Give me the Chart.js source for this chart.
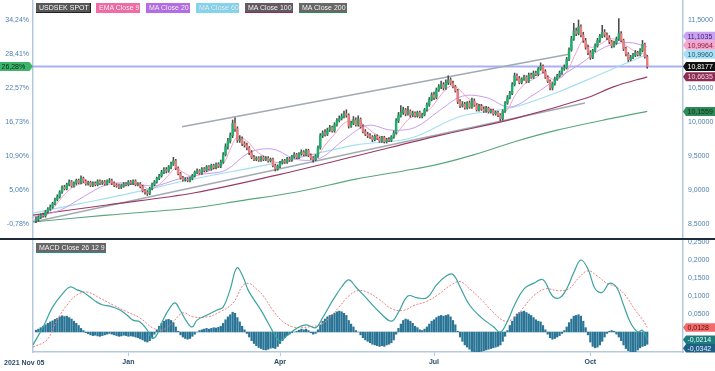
<!DOCTYPE html>
<html><head><meta charset="utf-8">
<script src="https://cdn.jsdelivr.net/npm/chart.js@4.4.1/dist/chart.umd.min.js"></script>
<style>
html,body{margin:0;padding:0;background:#fff;}
#wrap{position:relative;width:715px;height:371px;overflow:hidden;font-family:"Liberation Sans",Arial,sans-serif;}
canvas{position:absolute;left:0;}
#c1{top:0}
#c2{top:240px}
.lg{position:absolute;height:10px;line-height:10px;font-size:7px;color:#fff;padding:0 3px;box-sizing:border-box;white-space:nowrap;text-shadow:0 0 1px rgba(0,0,0,.35)}
#sep{position:absolute;left:0;top:238px;width:715px;height:2px;background:#1d2b3a}
#xfirst{position:absolute;left:4px;top:357px;font-size:7px;line-height:11px;font-weight:bold;color:#2c4a68}
</style></head>
<body>
<div id="wrap">
<canvas id="c1" width="715" height="238"></canvas>
<canvas id="c2" width="715" height="131"></canvas>
<div id="sep"></div>
<div class="lg" style="left:36px;top:3px;width:55px;background:#585858;border-right:1px solid #222;border-bottom:1px solid #222">USDSEK SPOT</div>
<div class="lg" style="left:96px;top:3px;width:44px;background:#f46aa6">EMA Close 9</div>
<div class="lg" style="left:146px;top:3px;width:44px;background:#b56ce6">MA Close 20</div>
<div class="lg" style="left:196px;top:3px;width:43px;background:#82d4f0">MA Close 60</div>
<div class="lg" style="left:245px;top:3px;width:48px;background:#655a60;border-bottom:1px solid #8c2d55">MA Close 100</div>
<div class="lg" style="left:299px;top:3px;width:48px;background:#686868;border-bottom:1px solid #2f8a58">MA Close 200</div>
<div class="lg" style="left:36px;top:243px;width:70px;background:#686868;border-bottom:1px solid #2a8a8a">MACD Close 26 12 9</div>
<div id="xfirst">2021 Nov 05</div>
</div>
<script>
// ---------------- DATA ----------------
const firstDateLabel = '2021 Nov 05';
const xTickIdx = [39, 103, 168, 234];
const xTickLabels = ['Jan', 'Apr', 'Jul', 'Oct'];

const priceTickValues = [8.5, 9.0, 9.5, 10.0, 10.5, 11.5];
const priceTickLabels = ['8,5000', '9,0000', '9,5000', '10,0000', '10,5000', '11,5000'];
const pctTickValues = [8.5, 9.0, 9.5, 10.0, 10.5, 11.0, 11.5];
const pctTickLabels = ['-0,78%', '5,06%', '10,90%', '16,73%', '22,57%', '28,41%', '34,24%'];
const lastPctLabel = '26,28%';
const macdTickValues = [-0.05, 0.05, 0.10, 0.15, 0.20, 0.25];
const macdTickLabels = ['-0,0500', '0,0500', '0,1000', '0,1500', '0,2000', '0,2500'];

const opens = [
8.55,8.57,8.60,8.63,8.62,8.68,8.72,8.75,8.80,8.86,
8.90,8.97,9.04,9.02,9.08,9.12,9.06,9.10,9.14,9.11,
9.17,9.13,9.09,9.11,9.07,9.10,9.08,9.13,9.10,9.12,
9.09,9.13,9.14,9.10,9.07,9.06,9.04,9.06,9.09,9.08,
9.12,9.10,9.13,9.08,9.09,9.05,8.99,8.97,8.95,9.02,
9.08,9.12,9.17,9.21,9.26,9.30,9.28,9.34,9.38,9.43,
9.32,9.24,9.18,9.15,9.16,9.14,9.17,9.21,9.26,9.28,
9.25,9.31,9.29,9.34,9.31,9.36,9.33,9.38,9.35,9.41,
9.52,9.64,9.72,9.80,9.98,9.90,9.73,9.75,9.68,9.66,
9.62,9.55,9.48,9.45,9.47,9.44,9.48,9.45,9.47,9.43,
9.45,9.36,9.31,9.35,9.40,9.43,9.41,9.46,9.44,9.49,
9.52,9.48,9.53,9.56,9.52,9.58,9.51,9.47,9.45,9.50,
9.62,9.80,9.84,9.82,9.88,9.92,9.87,9.96,10.02,10.05,
10.08,10.12,10.10,9.94,9.98,10.03,9.96,10.04,9.93,9.86,
9.82,9.80,9.78,9.74,9.79,9.76,9.72,9.77,9.71,9.74,
9.73,9.78,9.84,10.02,10.10,10.14,10.18,10.12,10.16,10.10,
10.13,10.09,10.14,10.08,10.11,10.18,10.25,10.33,10.40,10.36,
10.47,10.52,10.55,10.50,10.58,10.62,10.57,10.52,10.46,10.30,
10.24,10.26,10.21,10.28,10.22,10.31,10.25,10.18,10.23,10.19,
10.16,10.20,10.15,10.17,10.12,10.14,10.10,10.05,10.16,10.28,
10.36,10.42,10.55,10.68,10.64,10.58,10.63,10.66,10.60,10.69,
10.66,10.72,10.70,10.78,10.82,10.74,10.66,10.60,10.50,10.56,
10.63,10.68,10.72,10.78,10.80,10.92,11.06,11.22,11.34,11.30,
11.40,11.28,11.20,11.10,11.02,10.95,11.05,11.12,11.20,11.26,
11.32,11.28,11.24,11.18,11.12,11.16,11.22,11.30,11.20,11.08,
11.00,10.92,10.95,10.98,11.02,10.99,11.05,11.14,10.96];

const highs = [
8.60,8.62,8.65,8.66,8.70,8.74,8.78,8.82,8.88,8.93,
8.99,9.06,9.07,9.10,9.15,9.14,9.12,9.16,9.16,9.21,
9.19,9.15,9.13,9.13,9.12,9.12,9.15,9.15,9.14,9.14,
9.15,9.17,9.16,9.12,9.09,9.08,9.08,9.11,9.11,9.14,
9.14,9.15,9.15,9.11,9.11,9.07,9.01,8.99,9.04,9.10,
9.14,9.19,9.23,9.29,9.33,9.33,9.36,9.41,9.48,9.45,
9.34,9.26,9.20,9.18,9.18,9.19,9.23,9.28,9.31,9.30,
9.33,9.33,9.36,9.36,9.38,9.38,9.40,9.40,9.44,9.55,
9.68,9.76,9.84,10.03,10.06,9.93,9.80,9.78,9.71,9.69,
9.64,9.58,9.51,9.49,9.49,9.50,9.50,9.49,9.49,9.47,
9.47,9.38,9.37,9.42,9.45,9.45,9.48,9.48,9.51,9.55,
9.54,9.55,9.59,9.58,9.60,9.60,9.53,9.49,9.52,9.65,
9.83,9.87,9.89,9.91,9.95,9.94,9.99,10.05,10.09,10.12,
10.16,10.18,10.12,10.01,10.08,10.06,10.09,10.06,9.96,9.89,
9.85,9.83,9.80,9.81,9.81,9.78,9.79,9.79,9.76,9.77,
9.80,9.87,10.05,10.14,10.24,10.22,10.20,10.23,10.18,10.16,
10.15,10.16,10.16,10.13,10.20,10.28,10.36,10.43,10.44,10.50,
10.55,10.60,10.58,10.62,10.68,10.65,10.60,10.54,10.48,10.33,
10.30,10.29,10.30,10.31,10.35,10.34,10.27,10.26,10.26,10.22,
10.23,10.22,10.19,10.19,10.16,10.16,10.12,10.18,10.30,10.39,
10.45,10.58,10.72,10.71,10.67,10.65,10.69,10.68,10.72,10.72,
10.75,10.75,10.80,10.87,10.84,10.77,10.68,10.62,10.58,10.66,
10.70,10.75,10.80,10.84,10.95,11.09,11.26,11.45,11.38,11.50,
11.43,11.32,11.23,11.13,11.05,11.07,11.15,11.23,11.29,11.42,
11.36,11.31,11.27,11.20,11.19,11.25,11.52,11.33,11.22,11.10,
11.02,10.98,11.01,11.05,11.04,11.08,11.20,11.16,10.98];

const lows = [
8.52,8.54,8.58,8.60,8.60,8.66,8.70,8.73,8.78,8.84,
8.88,8.95,9.00,9.00,9.06,9.04,9.04,9.08,9.09,9.09,
9.11,9.07,9.07,9.05,9.05,9.06,9.06,9.08,9.08,9.07,
9.07,9.11,9.08,9.05,9.04,9.02,9.02,9.04,9.06,9.06,
9.08,9.08,9.06,9.06,9.03,8.97,8.94,8.92,8.93,9.00,
9.06,9.10,9.15,9.19,9.24,9.25,9.26,9.31,9.36,9.30,
9.22,9.16,9.13,9.13,9.12,9.12,9.15,9.19,9.24,9.23,
9.23,9.27,9.27,9.29,9.29,9.31,9.31,9.33,9.33,9.39,
9.50,9.60,9.69,9.77,9.86,9.70,9.70,9.65,9.63,9.59,
9.52,9.46,9.43,9.43,9.42,9.42,9.43,9.43,9.41,9.41,
9.34,9.28,9.29,9.33,9.38,9.39,9.39,9.42,9.42,9.47,
9.46,9.46,9.51,9.50,9.50,9.49,9.45,9.41,9.43,9.48,
9.60,9.77,9.79,9.80,9.86,9.85,9.85,9.94,10.00,10.03,
10.06,10.07,9.91,9.92,9.96,9.94,9.94,9.91,9.84,9.80,
9.77,9.76,9.71,9.72,9.74,9.70,9.70,9.69,9.69,9.71,
9.71,9.76,9.82,9.99,10.07,10.11,10.09,10.10,10.07,10.08,
10.07,10.07,10.06,10.06,10.09,10.16,10.23,10.31,10.33,10.34,
10.45,10.49,10.47,10.48,10.55,10.55,10.50,10.44,10.27,10.21,
10.22,10.19,10.19,10.20,10.20,10.23,10.16,10.16,10.17,10.14,
10.14,10.13,10.13,10.10,10.10,10.08,10.02,10.03,10.14,10.26,
10.34,10.40,10.53,10.61,10.56,10.56,10.61,10.58,10.58,10.64,
10.64,10.68,10.68,10.76,10.72,10.64,10.58,10.47,10.47,10.54,
10.61,10.66,10.70,10.76,10.78,10.90,11.04,11.20,11.27,11.28,
11.25,11.17,11.07,10.99,10.92,10.93,11.03,11.10,11.17,11.24,
11.25,11.21,11.15,11.09,11.10,11.14,11.20,11.18,11.05,10.97,
10.89,10.90,10.93,10.96,10.97,10.97,11.03,10.94,10.79];

const closes = [
8.57,8.60,8.63,8.62,8.68,8.72,8.75,8.80,8.86,8.90,
8.97,9.04,9.02,9.08,9.12,9.06,9.10,9.14,9.11,9.17,
9.13,9.09,9.11,9.07,9.10,9.08,9.13,9.10,9.12,9.09,
9.13,9.14,9.10,9.07,9.06,9.04,9.06,9.09,9.08,9.12,
9.10,9.13,9.08,9.09,9.05,8.99,8.97,8.95,9.02,9.08,
9.12,9.17,9.21,9.26,9.30,9.28,9.34,9.38,9.43,9.32,
9.24,9.18,9.15,9.16,9.14,9.17,9.21,9.26,9.28,9.25,
9.31,9.29,9.34,9.31,9.36,9.33,9.38,9.35,9.41,9.52,
9.64,9.72,9.80,9.98,9.90,9.73,9.75,9.68,9.66,9.62,
9.55,9.48,9.45,9.47,9.44,9.48,9.45,9.47,9.43,9.45,
9.36,9.31,9.35,9.40,9.43,9.41,9.46,9.44,9.49,9.52,
9.48,9.53,9.56,9.52,9.58,9.51,9.47,9.45,9.50,9.62,
9.80,9.84,9.82,9.88,9.92,9.87,9.96,10.02,10.05,10.08,
10.12,10.10,9.94,9.98,10.03,9.96,10.04,9.93,9.86,9.82,
9.80,9.78,9.74,9.79,9.76,9.72,9.77,9.71,9.74,9.73,
9.78,9.84,10.02,10.10,10.14,10.18,10.12,10.16,10.10,10.13,
10.09,10.14,10.08,10.11,10.18,10.25,10.33,10.40,10.36,10.47,
10.52,10.55,10.50,10.58,10.62,10.57,10.52,10.46,10.30,10.24,
10.26,10.21,10.28,10.22,10.31,10.25,10.18,10.23,10.19,10.16,
10.20,10.15,10.17,10.12,10.14,10.10,10.05,10.16,10.28,10.36,
10.42,10.55,10.68,10.64,10.58,10.63,10.66,10.60,10.69,10.66,
10.72,10.70,10.78,10.82,10.74,10.66,10.60,10.50,10.56,10.63,
10.68,10.72,10.78,10.80,10.92,11.06,11.22,11.34,11.30,11.40,
11.28,11.20,11.10,11.02,10.95,11.05,11.12,11.20,11.26,11.32,
11.28,11.24,11.18,11.12,11.16,11.22,11.30,11.20,11.08,11.00,
10.92,10.95,10.98,11.02,10.99,11.05,11.14,10.96,10.8177];

// moving averages: [trading-day index, value]
const ema9 = [[-1.3,8.55],[3,8.60],[6,8.68],[10,8.85],[14,9.00],[18,9.08],[22,9.11],[26,9.10],[30,9.11],[35,9.09],[40,9.08],[44,9.08],[48,9.01],[52,9.08],[56,9.22],[59,9.32],[62,9.26],[66,9.20],[70,9.24],[75,9.31],[79,9.38],[82,9.60],[85,9.78],[89,9.72],[93,9.57],[97,9.48],[101,9.41],[105,9.40],[110,9.46],[115,9.52],[119,9.52],[122,9.66],[126,9.82],[130,9.98],[134,10.03],[138,9.97],[142,9.85],[147,9.77],[151,9.77],[154,9.91],[158,10.06],[163,10.11],[167,10.22],[171,10.40],[175,10.53],[178,10.50],[182,10.36],[187,10.26],[192,10.19],[196,10.12],[199,10.18],[202,10.38],[206,10.55],[211,10.65],[214,10.72],[218,10.63],[222,10.66],[225,10.80],[228,11.02],[231,11.20],[234,11.10],[238,11.14],[242,11.22],[246,11.20],[250,11.10],[254,11.02],[258,10.9964]];
const ma20 = [[-1.3,8.60],[10,8.70],[20,8.90],[30,9.08],[40,9.10],[50,9.06],[60,9.16],[70,9.23],[80,9.29],[90,9.55],[100,9.60],[110,9.45],[120,9.47],[130,9.74],[140,9.95],[150,9.88],[160,9.92],[170,10.16],[180,10.38],[190,10.36],[200,10.22],[210,10.40],[220,10.64],[230,10.86],[240,11.10],[250,11.17],[258,11.1035]];
const ma60 = [[-1.3,8.66],[18.6,8.80],[39.7,8.95],[65,9.15],[98.8,9.38],[134.7,9.66],[158,9.76],[179,10.08],[202,10.22],[221,10.45],[238,10.70],[258,10.9960]];
const ma100 = [[-1.3,8.63],[30,8.78],[67,8.96],[103,9.23],[135,9.50],[170,9.80],[202,10.05],[232,10.35],[244,10.52],[258,10.6635]];
const ma200 = [[-1.3,8.53],[30,8.63],[67,8.74],[86,8.84],[110,8.97],[135,9.16],[155,9.28],[170,9.38],[185,9.52],[202,9.71],[220,9.88],[244,10.06],[258,10.1559]];
// hand-drawn trend lines: [index, price]
const trendUpper = [[61.6,9.93],[225.4,11.00]];
const trendLower = [[-1.27,8.53],[231.7,10.28]];

// MACD panel
const macdLine = [[-1.3,-0.036],[3,0.014],[7,0.069],[11.4,0.108],[14.4,0.125],[17.3,0.117],[19.8,0.111],[22.8,0.097],[25.7,0.083],[28.3,0.075],[31.2,0.072],[35.5,0.061],[38.4,0.047],[40.9,0.033],[43.9,0.028],[46.9,0.006],[49,-0.017],[51,-0.008],[53.6,0.033],[56.5,0.067],[58.7,0.081],[60.8,0.061],[63.7,0.028],[65.9,0.014],[68,0.033],[72.2,0.047],[76.4,0.061],[79,0.069],[81.9,0.117],[84.8,0.178],[87.4,0.153],[89.5,0.117],[92,0.09],[95,0.06],[98,0.025],[101,-0.01],[103,-0.025],[106,-0.01],[110,0.01],[114,0.02],[118,0.012],[121,0.04],[125,0.085],[129,0.125],[132,0.145],[135,0.125],[140,0.09],[145,0.055],[150,0.03],[153,0.055],[157,0.10],[161,0.095],[165,0.095],[169,0.13],[173,0.155],[176,0.16],[179,0.125],[183,0.075],[188,0.04],[193,0.015],[196,0.0],[199,0.03],[202,0.075],[206,0.12],[210,0.135],[214,0.145],[218,0.10],[221,0.095],[224,0.12],[227,0.165],[230,0.20],[233,0.175],[236,0.12],[239,0.11],[242,0.135],[245,0.125],[248,0.075],[251,0.025],[254,0.0],[256,0.005],[258,-0.0214]];
const signalLine = [[-1.3,-0.042],[4.6,-0.022],[8.9,0.033],[13.1,0.075],[17.3,0.103],[21.5,0.111],[27,0.094],[32.5,0.075],[38.4,0.056],[43.9,0.039],[49.4,0.011],[53.6,0.006],[57.8,0.028],[62,0.053],[66.3,0.042],[72.2,0.042],[77.7,0.056],[83.2,0.081],[87.4,0.13],[90,0.135],[93,0.12],[96,0.10],[100,0.06],[104,0.03],[108,0.015],[112,0.012],[116,0.015],[120,0.02],[124,0.04],[128,0.07],[132,0.10],[136,0.115],[140,0.11],[145,0.09],[150,0.065],[155,0.06],[160,0.075],[165,0.085],[170,0.105],[175,0.13],[179,0.14],[183,0.12],[188,0.09],[193,0.055],[198,0.03],[202,0.04],[206,0.07],[210,0.10],[215,0.12],[220,0.115],[225,0.12],[229,0.15],[233,0.17],[237,0.155],[241,0.135],[245,0.125],[249,0.10],[253,0.06],[256,0.035],[258,0.0128]];
const histogram = [
0.005,0.008,0.012,0.016,0.020,0.024,0.028,0.031,0.035,0.038,
0.042,0.045,0.043,0.044,0.040,0.036,0.030,0.024,0.018,0.010,
0.004,-0.002,-0.005,-0.008,-0.010,-0.009,-0.011,-0.012,-0.010,-0.008,
-0.006,-0.004,-0.006,-0.008,-0.010,-0.012,-0.011,-0.009,-0.010,-0.012,
-0.011,-0.012,-0.014,-0.016,-0.019,-0.022,-0.026,-0.028,-0.024,-0.016,
-0.006,0.006,0.016,0.024,0.030,0.034,0.035,0.032,0.026,0.014,
0.002,-0.008,-0.014,-0.018,-0.020,-0.018,-0.012,-0.006,0.000,0.004,
0.006,0.008,0.010,0.008,0.010,0.012,0.011,0.013,0.016,0.024,
0.034,0.042,0.048,0.055,0.052,0.040,0.028,0.016,0.006,-0.004,
-0.014,-0.024,-0.032,-0.038,-0.043,-0.046,-0.049,-0.050,-0.048,-0.045,
-0.044,-0.046,-0.040,-0.032,-0.024,-0.016,-0.010,-0.006,-0.002,0.000,
0.002,0.005,0.008,0.006,0.008,0.004,-0.002,-0.006,-0.004,0.006,
0.020,0.030,0.036,0.042,0.046,0.048,0.052,0.056,0.058,0.056,
0.052,0.046,0.032,0.022,0.014,0.004,0.000,-0.008,-0.016,-0.022,
-0.026,-0.030,-0.034,-0.036,-0.038,-0.040,-0.038,-0.040,-0.036,-0.034,
-0.030,-0.022,-0.006,0.010,0.022,0.032,0.036,0.034,0.030,0.024,
0.016,0.012,0.006,0.004,0.008,0.014,0.022,0.030,0.034,0.040,
0.044,0.046,0.044,0.046,0.048,0.042,0.032,0.020,0.002,-0.014,
-0.026,-0.036,-0.042,-0.048,-0.054,-0.056,-0.058,-0.056,-0.054,-0.052,
-0.050,-0.048,-0.046,-0.044,-0.042,-0.040,-0.036,-0.026,-0.012,0.004,
0.018,0.030,0.042,0.050,0.054,0.056,0.058,0.054,0.050,0.046,
0.040,0.034,0.030,0.028,0.018,0.006,-0.006,-0.016,-0.020,-0.018,
-0.014,-0.010,-0.004,0.004,0.014,0.026,0.036,0.044,0.046,0.048,
0.044,0.030,0.012,-0.008,-0.028,-0.040,-0.044,-0.042,-0.036,-0.026,
-0.014,-0.004,0.002,0.004,0.002,-0.006,-0.014,-0.024,-0.036,-0.046,
-0.052,-0.056,-0.058,-0.056,-0.050,-0.044,-0.040,-0.038,-0.0342];

// ---------------- STYLE ----------------
const FONT = '"Liberation Sans", Arial, sans-serif';
const FS = 7;
const AX = '#b4c9dd';
const TICK = '#4d7fae';
const UP = '#1fae6c', DOWN = '#e97b7b', WICK = '#4a4a4a';
const X_MIN = -1.27, X_MAX = 273.1;
const Y_MIN = 8.294, Y_MAX = 11.794;
const M_MIN = -0.0556, M_MAX = 0.2556;

const pts = a => a.map(p => ({x: p[0], y: p[1]}));
const last = a => a[a.length - 1][1];
const fmt = v => v.toFixed(4).replace('.', ',');

function drawTag(ctx, x0, x1, tipX, y, h, bg, fg, text) {
  ctx.save();
  ctx.fillStyle = bg;
  ctx.beginPath();
  if (tipX < x0) {
    ctx.moveTo(tipX, y); ctx.lineTo(x0, y - h / 2); ctx.lineTo(x1, y - h / 2);
    ctx.lineTo(x1, y + h / 2); ctx.lineTo(x0, y + h / 2);
  } else {
    ctx.moveTo(tipX, y); ctx.lineTo(x1, y - h / 2); ctx.lineTo(x0, y - h / 2);
    ctx.lineTo(x0, y + h / 2); ctx.lineTo(x1, y + h / 2);
  }
  ctx.closePath(); ctx.fill();
  ctx.fillStyle = fg;
  ctx.font = FS + 'px ' + FONT;
  ctx.textBaseline = 'middle';
  ctx.textAlign = 'left';
  ctx.fillText(text, x0 + 1.5, y + 0.5);
  ctx.restore();
}

function placeTags(tags, gap) {
  tags.sort((a, b) => a.y - b.y);
  const ai = tags.findIndex(t => t.anchor);
  for (let i = ai - 1; i >= 0; i--) tags[i].y = Math.min(tags[i].y, tags[i + 1].y - gap);
  for (let i = ai + 1; i < tags.length; i++) tags[i].y = Math.max(tags[i].y, tags[i - 1].y + gap);
  return tags;
}

const yRightCommon = (vals, labels, min, max) => ({
  position: 'right', min, max,
  grid: {display: false, drawTicks: false},
  border: {display: true, color: AX, width: 1.5},
  afterBuildTicks: s => { s.ticks = vals.map(v => ({value: v})); },
  ticks: {callback: (v, i) => labels[i], color: TICK, font: {size: FS, family: FONT}, padding: 5, autoSkip: false},
  afterFit: s => { s.width = 32; s.paddingTop = 0; s.paddingBottom = 0; }
});

// ---------------- MAIN CHART ----------------
const idx = closes.map((c, i) => i);
const mainDecor = {
  id: 'mainDecor',
  beforeDatasetsDraw(chart) {
    const {ctx, chartArea} = chart;
    const y = chart.scales.y.getPixelForValue(closes[closes.length - 1]);
    ctx.save();
    ctx.strokeStyle = '#a9b0f4';
    ctx.lineWidth = 2;
    ctx.beginPath(); ctx.moveTo(chartArea.left, y); ctx.lineTo(chartArea.right, y); ctx.stroke();
    ctx.restore();
  },
  afterDraw(chart) {
    const {ctx} = chart;
    const ys = chart.scales.y;
    const lastClose = closes[closes.length - 1];
    const tags = placeTags([
      {v: last(ma20), bg: '#c9a3f1', fg: '#4a2070'},
      {v: last(ema9), bg: '#f8a5cb', fg: '#7a1f40'},
      {v: last(ma60), bg: '#a7e0f4', fg: '#1d5670'},
      {v: lastClose, bg: '#111111', fg: '#ffffff', anchor: true},
      {v: last(ma100), bg: '#8c2d55', fg: '#f6d4e0'},
      {v: last(ma200), bg: '#2f8a58', fg: '#0c2a19'}
    ].map(t => Object.assign(t, {y: ys.getPixelForValue(t.v)})), 9);
    tags.forEach(t => drawTag(ctx, 686, 715, 683, t.y, 9, t.bg, t.fg, fmt(t.v)));
    const yl = ys.getPixelForValue(lastClose);
    drawTag(ctx, 0, 29.5, 33, yl, 9, '#3cb46c', '#0b2a18', lastPctLabel);
  }
};

new Chart(document.getElementById('c1'), {
  type: 'bar',
  data: {
    datasets: [
      {type: 'bar', label: 'wick', data: idx.map(i => ({x: i, y: [lows[i], highs[i]]})), backgroundColor: WICK, barThickness: 0.9, grouped: false, order: 1, yAxisID: 'y'},
      {type: 'bar', label: 'USDSEK SPOT', data: idx.map(i => ({x: i, y: [opens[i], closes[i]]})), backgroundColor: idx.map(i => closes[i] >= opens[i] ? UP : DOWN), barThickness: 1.8, grouped: false, order: 0, yAxisID: 'y'},
      {type: 'line', label: 'EMA Close 9', data: pts(ema9), borderColor: '#f7a0c6', borderWidth: 1, pointRadius: 0, tension: 0.35, order: 2, yAxisID: 'y'},
      {type: 'line', label: 'MA Close 20', data: pts(ma20), borderColor: '#c79bef', borderWidth: 1, pointRadius: 0, tension: 0.35, order: 3, yAxisID: 'y'},
      {type: 'line', label: 'MA Close 60', data: pts(ma60), borderColor: '#a3def3', borderWidth: 1.1, pointRadius: 0, tension: 0.35, order: 4, yAxisID: 'y'},
      {type: 'line', label: 'MA Close 100', data: pts(ma100), borderColor: '#9b3a63', borderWidth: 1.1, pointRadius: 0, tension: 0.35, order: 5, yAxisID: 'y'},
      {type: 'line', label: 'MA Close 200', data: pts(ma200), borderColor: '#5aa67c', borderWidth: 1.1, pointRadius: 0, tension: 0.35, order: 6, yAxisID: 'y'},
      {type: 'line', label: 'trend upper', data: pts(trendUpper), borderColor: '#a2aab2', borderWidth: 1.6, pointRadius: 0, order: 7, yAxisID: 'y'},
      {type: 'line', label: 'trend lower', data: pts(trendLower), borderColor: '#a2aab2', borderWidth: 1.6, pointRadius: 0, order: 7, yAxisID: 'y'}
    ]
  },
  options: {
    responsive: false, animation: false, devicePixelRatio: 1, events: [],
    layout: {padding: 0},
    plugins: {legend: {display: false}, tooltip: {enabled: false}},
    scales: {
      x: {type: 'linear', min: X_MIN, max: X_MAX, offset: false, display: false, grid: {offset: false}},
      y: yRightCommon(priceTickValues, priceTickLabels, Y_MIN, Y_MAX),
      yL: {
        position: 'left', min: Y_MIN, max: Y_MAX,
        grid: {display: false, drawTicks: false},
        border: {display: true, color: AX, width: 1.5},
        afterBuildTicks: s => { s.ticks = pctTickValues.map(v => ({value: v})); },
        ticks: {callback: (v, i) => pctTickLabels[i], color: TICK, font: {size: FS, family: FONT}, padding: 4, autoSkip: false},
        afterFit: s => { s.width = 33; s.paddingTop = 0; s.paddingBottom = 0; }
      }
    }
  },
  plugins: [mainDecor]
});

// ---------------- MACD CHART ----------------
const macdDecor = {
  id: 'macdDecor',
  afterDraw(chart) {
    const {ctx} = chart;
    const ys = chart.scales.y;
    const tags = placeTags([
      {v: last(signalLine), bg: '#f26b6b', fg: '#5a0f0f', anchor: true},
      {v: last(macdLine), bg: '#1d7d7d', fg: '#e6fafa'},
      {v: histogram[histogram.length - 1], bg: '#1f5f86', fg: '#e6f2fa'}
    ].map(t => Object.assign(t, {y: ys.getPixelForValue(t.v)})), 8.5);
    tags.forEach(t => drawTag(ctx, 686, 715, 683, t.y, 8.5, t.bg, t.fg, fmt(t.v)));
  }
};

new Chart(document.getElementById('c2'), {
  type: 'bar',
  data: {
    datasets: [
      {type: 'bar', label: 'histogram', data: idx.map(i => ({x: i, y: histogram[i]})), backgroundColor: '#2a7596', barThickness: 1.6, order: 2, yAxisID: 'y'},
      {type: 'line', label: 'MACD', data: pts(macdLine), borderColor: '#3aa3a0', borderWidth: 1.2, pointRadius: 0, tension: 0.4, order: 0, yAxisID: 'y'},
      {type: 'line', label: 'Signal', data: pts(signalLine), borderColor: '#f07d7d', borderWidth: 1, borderDash: [2, 1.5], pointRadius: 0, tension: 0.4, order: 1, yAxisID: 'y'}
    ]
  },
  options: {
    responsive: false, animation: false, devicePixelRatio: 1, events: [],
    layout: {padding: 0},
    plugins: {legend: {display: false}, tooltip: {enabled: false}},
    scales: {
      x: {
        type: 'linear', min: X_MIN, max: X_MAX, offset: false, position: 'bottom',
        grid: {display: true, offset: false, drawOnChartArea: false, drawTicks: true, tickLength: 4, color: AX},
        border: {display: true, color: AX, width: 1.5},
        afterBuildTicks: s => { s.ticks = xTickIdx.map(v => ({value: v})); },
        ticks: {callback: (v, i) => xTickLabels[i], color: '#2c4a68', font: {size: FS, family: FONT, weight: 'bold'}, padding: 2, maxRotation: 0, autoSkip: false},
        afterFit: s => { s.height = 19; s.paddingLeft = 0; s.paddingRight = 0; }
      },
      y: yRightCommon(macdTickValues, macdTickLabels, M_MIN, M_MAX),
      yL: {
        position: 'left', min: M_MIN, max: M_MAX,
        grid: {display: false, drawTicks: false},
        border: {display: true, color: AX, width: 1.5},
        ticks: {display: false},
        afterFit: s => { s.width = 33; s.paddingTop = 0; s.paddingBottom = 0; }
      }
    }
  },
  plugins: [macdDecor]
});
</script>
</body></html>
